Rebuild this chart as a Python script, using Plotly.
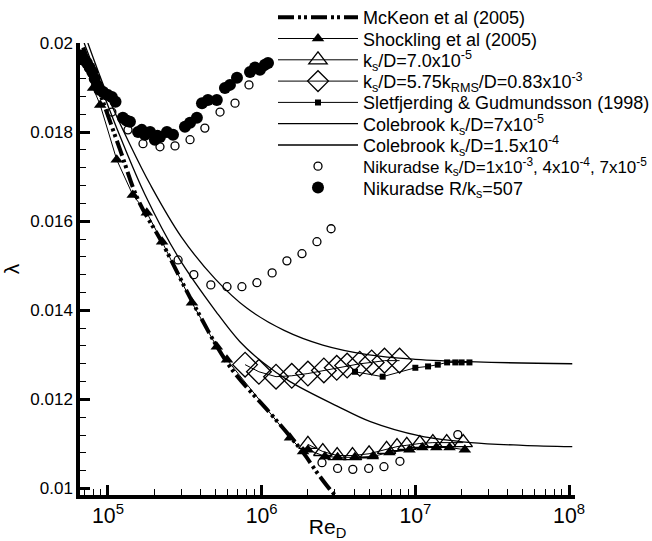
import plotly.graph_objects as go

# McKeon et al (2005) smooth-pipe curve
mckeon_re = [6.9e4, 8.9e4, 1.2e5, 1.57e5, 2.25e5, 3.57e5, 6.2e5, 1.13e6, 1.53e6, 1.86e6, 2.29e6, 2.78e6, 3.2e6]
mckeon_lam = [0.0199, 0.01886, 0.0176, 0.01648, 0.01552, 0.01417, 0.01274, 0.0117, 0.01117, 0.01081, 0.01036, 0.00998, 0.00975]

# Shockling et al (2005), filled triangles
shock_re = [7.1e4, 8.0e4, 8.9e4, 1.14e5, 1.45e5, 1.79e5, 2.25e5, 3.52e5, 5.11e5, 5.95e5, 1.53e6, 1.86e6,
            2.0e6, 2.58e6, 3.12e6, 4.04e6, 5.29e6, 6.78e6, 9.15e6, 1.11e7, 1.37e7, 1.67e7, 2.1e7]
shock_lam = [0.01957, 0.01899, 0.01861, 0.01738, 0.01659, 0.01619, 0.01554, 0.01417, 0.01318, 0.01289, 0.01114, 0.01083,
             0.01087, 0.01072, 0.0107, 0.0107, 0.01072, 0.01081, 0.01087, 0.01092, 0.01092, 0.01092, 0.01087]

# ks/D = 7.0e-5, open triangles
tri_re = [2.0e6, 2.5e6, 3.1e6, 3.9e6, 5.0e6, 6.5e6, 7.6e6, 8.8e6, 1.07e7, 1.3e7, 1.6e7, 2.05e7]
tri_lam = [0.01099, 0.01083, 0.01074, 0.01074, 0.01078, 0.01088, 0.01094, 0.01097, 0.01101, 0.01103, 0.01103, 0.01103]

# ks/D = 5.75 kRMS/D, open diamonds
dia_re = [7.8e5, 9.6e5, 1.24e6, 1.57e6, 2.0e6, 2.54e6, 3.08e6, 3.6e6, 4.35e6, 5.2e6, 6.3e6, 7.9e6]
dia_lam = [0.01278, 0.01262, 0.01251, 0.01253, 0.01258, 0.01265, 0.01271, 0.01276, 0.0128, 0.01283, 0.01287, 0.01287]

# Sletfjerding & Gudmundsson (1998), small filled squares
sq_re = [4.05e6, 6.13e6, 1.0e7, 1.21e7, 1.4e7, 1.61e7, 1.82e7, 2.0e7, 2.25e7]
sq_lam = [0.01262, 0.01251, 0.01271, 0.01274, 0.01278, 0.01283, 0.01283, 0.01283, 0.01283]

# Colebrook curves
cb7_re = [7.0e4, 8.9e4, 1.2e5, 1.74e5, 2.86e5, 5.1e5, 7.2e5, 1.0e6, 1.53e6, 3.1e6, 5.1e6, 1.07e7, 2.3e7, 5e7, 1.05e8]
cb7_lam = [0.02, 0.01905, 0.0179, 0.0166, 0.0152, 0.01395, 0.0133, 0.01285, 0.0124, 0.01185, 0.0115, 0.01118, 0.01103, 0.01097, 0.01094]
cb15_re = [7.4e4, 1.0e5, 1.4e5, 1.9e5, 3.0e5, 5.0e5, 8.0e5, 1.4e6, 2.5e6, 5.0e6, 1.0e7, 2.5e7, 1.05e8]
cb15_lam = [0.02, 0.0188, 0.0177, 0.0168, 0.01565, 0.0147, 0.01405, 0.01355, 0.01322, 0.013, 0.0129, 0.01284, 0.0128]

# Nikuradse open circles (three roughnesses)
nik_re = [1.06e5, 1.35e5, 1.69e5, 2.18e5, 2.73e5, 3.42e5, 4.27e5, 5.36e5, 6.71e5, 8.27e5, 1.03e6,
          2.86e5, 3.62e5, 4.67e5, 5.95e5, 7.44e5, 9.31e5, 1.17e6, 1.46e6, 1.83e6, 2.29e6, 2.83e6,
          2.47e6, 3.12e6, 3.92e6, 4.97e6, 6.25e6, 7.94e6, 1.89e7]
nik_lam = [0.01845, 0.01805, 0.01774, 0.01767, 0.01769, 0.01783, 0.01809, 0.01845, 0.01865, 0.01906, 0.01946,
           0.01513, 0.0148, 0.01457, 0.01453, 0.01453, 0.01462, 0.01484, 0.01511, 0.01527, 0.01554, 0.01583,
           0.01058, 0.01045, 0.01043, 0.01045, 0.01049, 0.01061, 0.01121]

# Nikuradse R/ks = 507, filled circles
nf_re = [6.7e4, 7.0e4, 7.3e4, 7.6e4, 7.9e4, 8.2e4, 8.5e4, 8.8e4, 9.3e4, 1.0e5, 1.06e5, 1.12e5, 1.25e5, 1.32e5,
         1.39e5, 1.57e5, 1.66e5, 1.74e5, 1.88e5, 2.02e5, 2.1e5, 2.18e5, 2.42e5, 2.65e5, 3.17e5, 3.42e5, 3.79e5,
         4.09e5, 4.47e5, 5.11e5, 5.77e5, 6.22e5, 6.91e5, 8.4e5, 9.05e5, 9.75e5, 1.05e6, 1.1e6]
nf_lam = [0.01972, 0.01962, 0.01955, 0.01945, 0.01935, 0.0192, 0.01905, 0.01895, 0.0189, 0.01883, 0.01879, 0.01868,
          0.01832, 0.01826, 0.01823, 0.018, 0.01805, 0.01794, 0.018, 0.01783, 0.01792, 0.01789, 0.018, 0.01794,
          0.01812, 0.01821, 0.01832, 0.01865, 0.01872, 0.01872, 0.01899, 0.01906, 0.01922, 0.01935, 0.01945,
          0.0194, 0.01951, 0.01955]

names = [
    "McKeon et al (2005)",
    "Shockling et al (2005)",
    "k<sub>s</sub>/D=7.0x10<sup>-5</sup>",
    "k<sub>s</sub>/D=5.75k<sub>RMS</sub>/D=0.83x10<sup>-3</sup>",
    "Sletfjerding & Gudmundsson (1998)",
    "Colebrook k<sub>s</sub>/D=7x10<sup>-5</sup>",
    "Colebrook k<sub>s</sub>/D=1.5x10<sup>-4</sup>",
    "Nikuradse k<sub>s</sub>/D=1x10<sup>-3</sup>, 4x10<sup>-4</sup>, 7x10<sup>-5</sup>",
    "Nikuradse R/k<sub>s</sub>=507",
]
legend_font_sizes = [18, 18, 18, 18, 18, 18, 18, 17, 18]

traces = [
    go.Scatter(x=mckeon_re, y=mckeon_lam, mode="lines", line=dict(color="black", width=4, shape="spline",
               dash="16px,4px,3px,3px,3px,4px")),
    go.Scatter(x=shock_re, y=shock_lam, mode="lines+markers", line=dict(color="black", width=1),
               marker=dict(symbol="triangle-up", size=11, color="black")),
    go.Scatter(x=tri_re, y=tri_lam, mode="lines+markers", line=dict(color="black", width=1),
               marker=dict(symbol="triangle-up-open", size=16, color="black", line=dict(width=1.3))),
    go.Scatter(x=dia_re, y=dia_lam, mode="lines+markers", line=dict(color="black", width=1),
               marker=dict(symbol="diamond-open", size=19, color="black", line=dict(width=1.3))),
    go.Scatter(x=sq_re, y=sq_lam, mode="lines+markers", line=dict(color="black", width=1),
               marker=dict(symbol="square", size=6, color="black")),
    go.Scatter(x=cb7_re, y=cb7_lam, mode="lines", line=dict(color="black", width=1.3, shape="spline")),
    go.Scatter(x=cb15_re, y=cb15_lam, mode="lines", line=dict(color="black", width=1.3, shape="spline")),
    go.Scatter(x=nik_re, y=nik_lam, mode="markers",
               marker=dict(symbol="circle-open", size=8, color="black", line=dict(width=1.3))),
    go.Scatter(x=nf_re, y=nf_lam, mode="markers", marker=dict(symbol="circle", size=12, color="black")),
]

fig = go.Figure()
layout_legends = {}
for i, (tr, nm, fs) in enumerate(zip(traces, names, legend_font_sizes)):
    key = "legend" if i == 0 else "legend%d" % (i + 1)
    tr.name = nm
    tr.legend = key
    fig.add_trace(tr)
    py = 17.5 + 21.3 * i
    layout_legends[key] = dict(x=(273 - 80) / 495, y=(495 - py) / 452, xanchor="left", yanchor="middle",
                               bgcolor="rgba(0,0,0,0)", itemwidth=80,
                               font=dict(family="Liberation Sans, Arial", size=fs, color="black"))

fig.update_layout(
    width=652, height=541,
    margin=dict(l=80, r=77, t=43, b=46, autoexpand=False),
    paper_bgcolor="white", plot_bgcolor="white",
    font=dict(family="Liberation Sans, Arial", size=17, color="black"),
    showlegend=True,
    **layout_legends,
)
fig.update_xaxes(type="log", range=[4.818, 8.039], dtick=1, exponentformat="power", showexponent="all",
                 showline=True, linecolor="black", linewidth=3.5, showgrid=False, zeroline=False,
                 ticks="inside", ticklen=10, tickwidth=3, tickcolor="black",
                 minor=dict(ticks="inside", ticklen=6, tickwidth=1.3, tickcolor="black", dtick="D1"),
                 title=dict(text="Re<sub>D</sub>", font=dict(size=21), standoff=6))
fig.update_yaxes(range=[0.009854, 0.02], tick0=0.01, dtick=0.002, showline=True, linecolor="black",
                 linewidth=3.5, showgrid=False, zeroline=False,
                 ticks="inside", ticklen=10, tickwidth=3, tickcolor="black",
                 minor=dict(ticks="inside", ticklen=6, tickwidth=1.3, tickcolor="black", dtick=0.0004),
                 title=dict(text="λ", font=dict(size=21), standoff=22))

fig.write_html("out.html", config={"displayModeBar": False},
               post_script="document.body.style.margin='0px';")
